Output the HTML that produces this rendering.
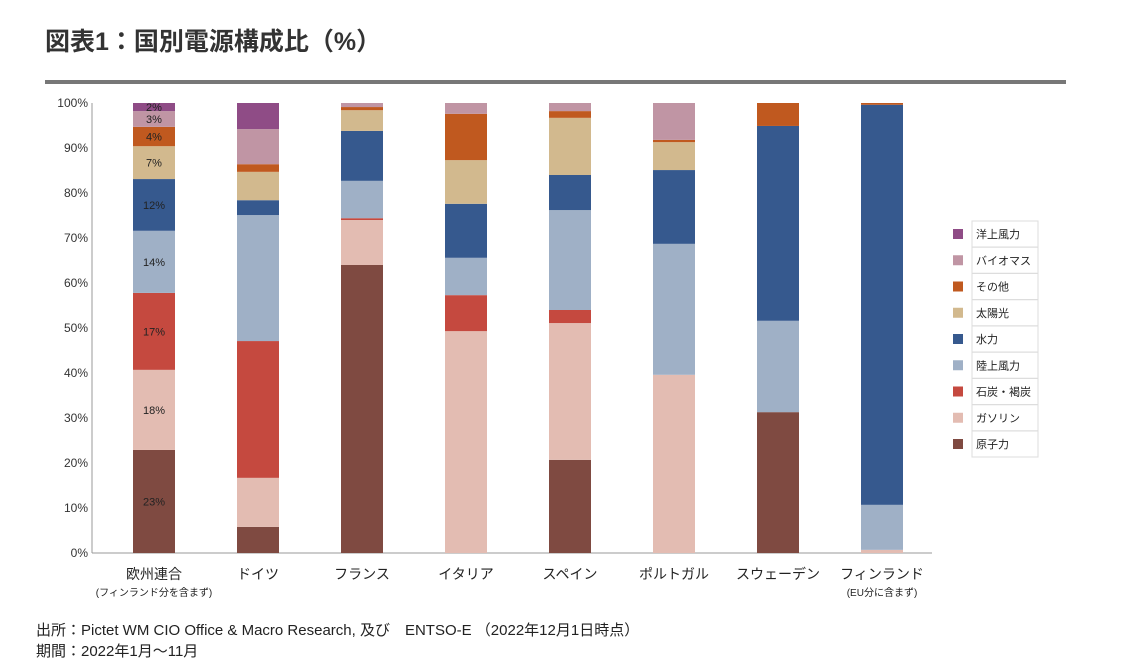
<!DOCTYPE html>
<html><head><meta charset="utf-8"><style>
body{margin:0;width:1135px;height:662px;background:#fff;overflow:hidden;font-family:"Liberation Sans","Noto Sans CJK JP",sans-serif;}
svg text{font-family:"Liberation Sans","Noto Sans CJK JP",sans-serif;}
</style></head><body>
<svg id="c" width="1135" height="662">
<text x="45" y="50" font-size="25" font-weight="bold" fill="#333">図表1：国別電源構成比（%）</text>
<rect x="45" y="80" width="1021" height="4" fill="#777"/>
<text x="36" y="635" font-size="15" fill="#222">出所：Pictet WM CIO Office &amp; Macro Research, 及び　ENTSO-E （2022年12月1日時点）</text>
<text x="36" y="656" font-size="15" fill="#222">期間：2022年1月～11月</text>
</svg>
<script>
const categories=["欧州連合","ドイツ","フランス","イタリア","スペイン","ポルトガル","スウェーデン","フィンランド"];
const subLabels=["(フィンランド分を含まず)","","","","","","","(EU分に含まず)"];
const seriesNames=["原子力","ガソリン","石炭・褐炭","陸上風力","水力","太陽光","その他","バイオマス","洋上風力"];
const seriesColors=["#7f4a41","#e3bcb2","#c5493f","#9fb0c6","#36598e","#d2b98e","#c0591f","#c095a4","#8f4c86"];
const nuclear=[22.9,5.8,64,0,20.7,0,31.3,0];
const gas=[17.8,10.9,10,49.3,30.4,39.6,0,0.7];
const coal=[17.1,30.4,0.4,8,2.9,0,0,0];
const onshore=[13.8,28,8.3,8.3,22.2,29.1,20.3,10];
const hydro=[11.5,3.3,11.1,12,7.8,16.4,43.3,88.9];
const solar=[7.3,6.3,4.6,9.7,12.7,6.2,0,0];
const other=[4.3,1.7,0.7,10.3,1.5,0.5,5.1,0.4];
const biomass=[3.5,7.8,0.9,2.4,1.8,8.2,0,0];
const offshore=[1.8,5.8,0,0,0,0,0,0];
const euLabels=["23%","18%","17%","14%","12%","7%","4%","3%","2%"];
const yTicks=[0,10,20,30,40,50,60,70,80,90,100];
const series=[nuclear,gas,coal,onshore,hydro,solar,other,biomass,offshore];
const NS="http://www.w3.org/2000/svg",svg=document.getElementById('c');
const X0=92,X1=932,Y0=553,Y1=103,bw=42;
const y=v=>Y0-(v/100)*(Y0-Y1);
const step=104;
const xc=i=>154+step*i;
function mk(t,a){const e=document.createElementNS(NS,t);for(const k in a)e.setAttribute(k,a[k]);svg.appendChild(e);return e;}
yTicks.forEach(t=>{const e=mk('text',{x:88,y:y(t)+4,'font-size':12,'text-anchor':'end',fill:'#333'});e.textContent=t+'%';

});
const ax=mk('line',{x1:X0,x2:X1,y1:Y0,y2:Y0,stroke:'#999'});


const ay=mk('line',{x1:X0,x2:X0,y1:Y1,y2:Y0,stroke:'#999'});


categories.forEach((c,i)=>{let cum=0;
series.forEach((s,k)=>{const v=s[i];if(v<=0){return;}
const r=mk('rect',{x:xc(i)-bw/2,y:y(cum+v),width:bw,height:y(cum)-y(cum+v),fill:seriesColors[k]});


if(i===0){const t=mk('text',{x:xc(i),y:(y(cum)+y(cum+v))/2+4,'font-size':11,'text-anchor':'middle',fill:'#222'});t.textContent=euLabels[k];

}
cum+=v;});
const t=mk('text',{x:xc(i),y:579,'font-size':14,'text-anchor':'middle',fill:'#222'});t.textContent=c;


if(subLabels[i]){const s=mk('text',{x:xc(i),y:596,'font-size':10,'text-anchor':'middle',fill:'#222'});s.textContent=subLabels[i];

}
});
for(let j=0;j<9;j++){const k=8-j;const cy=234+j*26.25;
const b=mk('rect',{x:972,y:cy-13,width:66,height:26,fill:'#fff',stroke:'#ddd'});


const sw=mk('rect',{x:953,y:cy-5,width:10,height:10,fill:seriesColors[k]});


const t=mk('text',{x:976,y:cy+4,'font-size':11,fill:'#222'});t.textContent=seriesNames[k];

}
</script>
</body></html>
